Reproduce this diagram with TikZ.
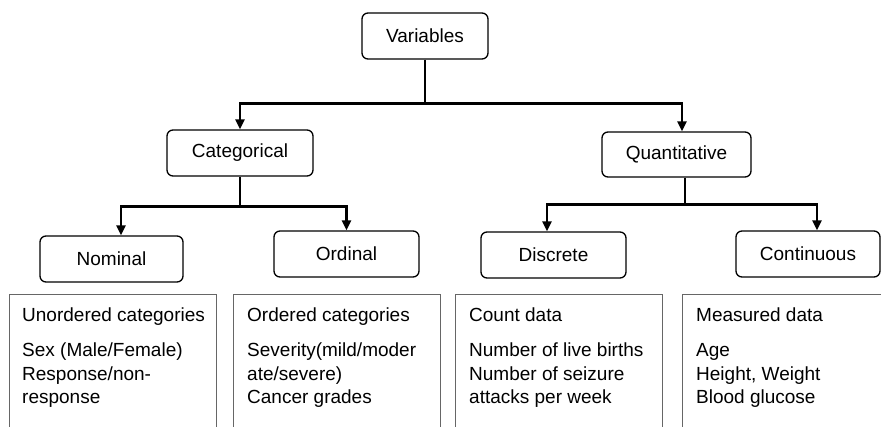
\documentclass[tikz,border=0pt]{standalone}
\usepackage{fontspec}
\setmainfont{Liberation Sans}
\usetikzlibrary{arrows.meta,calc}
\tikzset{
  catbox/.style={draw=black, line width=1.3pt, rounded corners=6pt, minimum height=46pt, inner sep=0pt, font=\fontsize{19}{22}\selectfont},
  conn/.style={draw=black, line width=2.7pt},
  arr/.style={conn, -{Triangle[width=9pt,length=10pt]}},
  infoline/.style={draw=black!60, line width=1pt},
  infotext/.style={anchor=north west, inner sep=0pt, align=left, font=\fontsize{19}{23.6}\selectfont},
}
\begin{document}
\begin{tikzpicture}[x=1pt,y=-1pt]
\useasboundingbox (0,0) rectangle (881,427);
% main boxes
\node[catbox, minimum width=126pt] (var) at (425,36) {Variables};
\node[catbox, minimum width=146pt] (cat) at (240,153) {Categorical};
\node[catbox, minimum width=149pt, minimum height=45pt] (quant) at (676.5,154.5) {Quantitative};
\node[catbox, minimum width=143pt] (nom) at (111.5,259) {Nominal};
\node[catbox, minimum width=145pt] (ord) at (346.5,254) {Ordinal};
\node[catbox, minimum width=145pt] (disc) at (553.5,255) {Discrete};
\node[catbox, minimum width=144pt] (cont) at (808,254) {Continuous};
% connectors
\coordinate (vj) at ($(var.south)+(0,44)$);
\draw[conn] (var.south) -- (vj);
\draw[arr] (vj) -| (cat.north);
\draw[arr] (vj) -| ($(quant.north)+(5.5,0)$);
\coordinate (cj) at ($(cat.south)+(0,30)$);
\draw[conn] (cat.south) -- (cj);
\draw[arr] (cj) -| ($(nom.north)+(9.5,0)$);
\draw[arr] (cj) -| (ord.north);
\coordinate (qj) at ($(quant.south)+(8.5,27)$);
\draw[conn] ($(quant.south)+(8.5,0)$) -- (qj);
\draw[arr] (qj) -| ($(disc.north)+(-6.5,0)$);
\draw[arr] (qj) -| ($(cont.north)+(9,0)$);
% info boxes (open at the bottom)
\draw[infoline] (9,428) -- (9,295) -- (216,295) -- (216,428);
\draw[infoline] (233,428) -- (233,295) -- (440,295) -- (440,428);
\draw[infoline] (455,428) -- (455,295) -- (662,295) -- (662,428);
\draw[infoline] (682,428) -- (682,295) -- (882,295);
\node[infotext] (t1) at (22,307.3) {Unordered categories\\[11.7pt]Sex (Male/Female)\\Response/non-\\response};
\node[infotext] (t2) at (247,307.3) {Ordered categories\\[11.7pt]Severity(mild/moder\\ate/severe)\\Cancer grades};
\node[infotext] (t3) at (469,307.3) {Count data\\[11.7pt]Number of live births\\Number of seizure\\attacks per week};
\node[infotext] (t4) at (696,307.3) {Measured data\\[11.7pt]Age\\Height, Weight\\Blood glucose};
\end{tikzpicture}
\end{document}
